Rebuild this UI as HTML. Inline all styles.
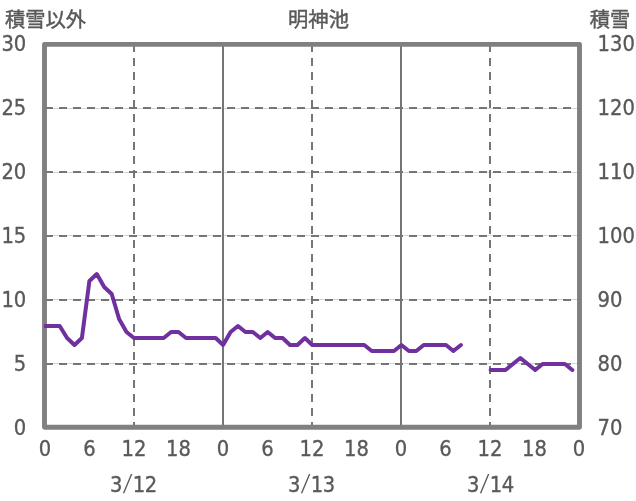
<!DOCTYPE html>
<html lang="ja"><head><meta charset="utf-8"><title>明神池</title>
<style>html,body{margin:0;padding:0;background:#fff;overflow:hidden}svg{display:block}text{font-family:"DejaVu Sans","Liberation Sans",sans-serif;fill:#595959;font-size:20.6px;stroke:#595959;stroke-width:.35px}.j{font-family:"Liberation Sans","Noto Sans CJK JP",sans-serif;font-size:20.3px;stroke:#595959;stroke-width:.45px}</style></head><body>
<svg width="636" height="501" viewBox="0 0 636 501">
<rect width="636" height="501" fill="#fff"/>
<rect x="45" y="363" width="534" height="1" fill="#d6d6d6"/>
<line x1="45" y1="364" x2="580" y2="364" stroke="#757575" stroke-width="2" stroke-dasharray="8 6"/>
<rect x="45" y="299" width="534" height="1" fill="#d6d6d6"/>
<line x1="45" y1="300" x2="580" y2="300" stroke="#757575" stroke-width="2" stroke-dasharray="8 6"/>
<rect x="45" y="235" width="534" height="1" fill="#d6d6d6"/>
<line x1="45" y1="236" x2="580" y2="236" stroke="#757575" stroke-width="2" stroke-dasharray="8 6"/>
<rect x="45" y="172" width="534" height="1" fill="#d6d6d6"/>
<line x1="45" y1="172" x2="580" y2="172" stroke="#757575" stroke-width="2" stroke-dasharray="8 6"/>
<rect x="45" y="108" width="534" height="1" fill="#d6d6d6"/>
<line x1="45" y1="108" x2="580" y2="108" stroke="#757575" stroke-width="2" stroke-dasharray="8 6"/>
<line x1="134" y1="44" x2="134" y2="428" stroke="#757575" stroke-width="2" stroke-dasharray="8 6"/>
<line x1="223" y1="44" x2="223" y2="428" stroke="#757575" stroke-width="2"/>
<line x1="312" y1="44" x2="312" y2="428" stroke="#757575" stroke-width="2" stroke-dasharray="8 6"/>
<line x1="401" y1="44" x2="401" y2="428" stroke="#757575" stroke-width="2"/>
<line x1="490" y1="44" x2="490" y2="428" stroke="#757575" stroke-width="2" stroke-dasharray="8 6"/>
<rect x="44.5" y="44.4" width="535" height="382.9" fill="none" stroke="#808080" stroke-width="4.9" stroke-linejoin="round"/>
<clipPath id="c"><rect x="44" y="40" width="560" height="400"/></clipPath>
<polyline clip-path="url(#c)" points="44.8,326 52.2,326 59.7,326 67.1,338 74.5,345 81.9,338 89.4,281 96.8,274 104.2,287 111.7,294 119.1,319 126.5,332 134.0,338 141.4,338 148.8,338 156.2,338 163.7,338 171.1,332 178.5,332 186.0,338 193.4,338 200.8,338 208.3,338 215.7,338 223.1,345 230.6,332 238.0,326 245.4,332 252.8,332 260.3,338 267.7,332 275.1,338 282.6,338 290.0,345 297.4,345 304.9,338 312.3,345 319.7,345 327.1,345 334.6,345 342.0,345 349.4,345 356.9,345 364.3,345 371.7,351 379.1,351 386.6,351 394.0,351 401.4,345 408.9,351 416.3,351 423.7,345 431.2,345 438.6,345 446.0,345 453.4,351 460.9,345" fill="none" stroke="#7030a0" stroke-width="4" stroke-linejoin="round" stroke-linecap="round"/>
<polyline points="490.6,370 498.0,370 505.5,370 512.9,364 520.3,358 527.8,364 535.2,370 542.6,364 550.0,364 557.5,364 564.9,364 572.3,370" fill="none" stroke="#7030a0" stroke-width="4" stroke-linejoin="round" stroke-linecap="round"/>
<text class="j" x="4.9" y="26.7">積雪以外</text>
<text class="j" x="318.5" y="26.7" text-anchor="middle">明神池</text>
<text class="j" x="630.3" y="26.7" text-anchor="end">積雪</text>
<text transform="translate(26.3 435.0) scale(0.95 1)" text-anchor="end">0</text>
<text transform="translate(26.3 371.0) scale(0.95 1)" text-anchor="end">5</text>
<text transform="translate(26.3 307.0) scale(0.95 1)" text-anchor="end">10</text>
<text transform="translate(26.3 243.0) scale(0.95 1)" text-anchor="end">15</text>
<text transform="translate(26.3 179.0) scale(0.95 1)" text-anchor="end">20</text>
<text transform="translate(26.3 115.0) scale(0.95 1)" text-anchor="end">25</text>
<text transform="translate(26.3 51.0) scale(0.95 1)" text-anchor="end">30</text>
<text transform="translate(597.5 435.0) scale(0.95 1)" text-anchor="start">70</text>
<text transform="translate(597.5 371.0) scale(0.95 1)" text-anchor="start">80</text>
<text transform="translate(597.5 307.0) scale(0.95 1)" text-anchor="start">90</text>
<text transform="translate(597.5 243.0) scale(0.95 1)" text-anchor="start">100</text>
<text transform="translate(597.5 179.0) scale(0.95 1)" text-anchor="start">110</text>
<text transform="translate(597.5 115.0) scale(0.95 1)" text-anchor="start">120</text>
<text transform="translate(597.5 51.0) scale(0.95 1)" text-anchor="start">130</text>
<text transform="translate(45.0 456.0) scale(0.95 1)" text-anchor="middle">0</text>
<text transform="translate(89.5 456.0) scale(0.95 1)" text-anchor="middle">6</text>
<text transform="translate(134.0 456.0) scale(0.95 1)" text-anchor="middle">12</text>
<text transform="translate(178.5 456.0) scale(0.95 1)" text-anchor="middle">18</text>
<text transform="translate(223.0 456.0) scale(0.95 1)" text-anchor="middle">0</text>
<text transform="translate(267.5 456.0) scale(0.95 1)" text-anchor="middle">6</text>
<text transform="translate(312.0 456.0) scale(0.95 1)" text-anchor="middle">12</text>
<text transform="translate(356.5 456.0) scale(0.95 1)" text-anchor="middle">18</text>
<text transform="translate(401.0 456.0) scale(0.95 1)" text-anchor="middle">0</text>
<text transform="translate(445.5 456.0) scale(0.95 1)" text-anchor="middle">6</text>
<text transform="translate(490.0 456.0) scale(0.95 1)" text-anchor="middle">12</text>
<text transform="translate(534.5 456.0) scale(0.95 1)" text-anchor="middle">18</text>
<text transform="translate(579.0 456.0) scale(0.95 1)" text-anchor="middle">0</text>
<text transform="translate(134.0 492) scale(0.95 1)" text-anchor="middle" x="-18.7 5.3 17.9">312</text>
<text transform="translate(126.2 491.3) skewX(-10.6) scale(0.85 1.14)" text-anchor="middle" style="stroke-width:0">/</text>
<text transform="translate(312.0 492) scale(0.95 1)" text-anchor="middle" x="-18.7 5.3 17.9">313</text>
<text transform="translate(304.2 491.3) skewX(-10.6) scale(0.85 1.14)" text-anchor="middle" style="stroke-width:0">/</text>
<text transform="translate(491.0 492) scale(0.95 1)" text-anchor="middle" x="-18.7 5.3 17.9">314</text>
<text transform="translate(483.2 491.3) skewX(-10.6) scale(0.85 1.14)" text-anchor="middle" style="stroke-width:0">/</text>
</svg></body></html>
